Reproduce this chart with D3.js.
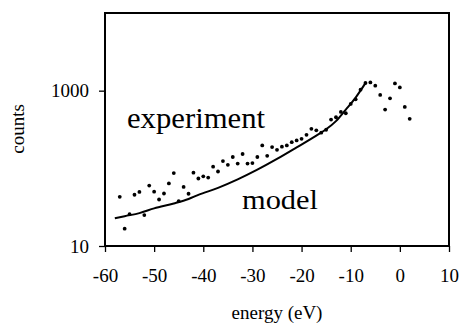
<!DOCTYPE html>
<html>
<head>
<meta charset="utf-8">
<script src="https://cdn.jsdelivr.net/npm/d3@7"></script>
<style>
  html, body { margin: 0; padding: 0; background: #fff; }
  svg { display: block; }
  svg text { font-family: "Liberation Serif", "Times New Roman", serif; fill: #000; }
</style>
</head>
<body>
<svg id="chart" width="459" height="325"></svg>
<script>
// Measured spectrum: energy (eV) and counts, one point per eV
const expEnergy = [-57,-56,-55,-54,-53,-52,-51,-50,-49,-48,-47,-46,-45,-44,-43,-42,-41,-40,-39,-38,
                   -37,-36,-35,-34,-33,-32,-31,-30,-29,-28,-27,-26,-25,-24,-23,-22,-21,-20,-19,-18,
                   -17,-16,-15,-14,-13,-12,-11,-10,-9,-8,-7,-6,-5,-4,-3,-2,-1,0,1,2];
const expCounts = [43,16.7,25.7,45.7,49.7,25,60,50,39.7,47.4,64,87,37.8,57.6,47.1,88,74,79,76,105,
                   91,124,111,140,115,153,115,117,140,197,145,188,173,190,197,217,229,240,270,323,
                   309,288,314,425,455,533,512,675,773,1030,1255,1277,1159,881,571,797,1241,1102,618,434];

// Model curve
const modelEnergy = [-58,-56,-53,-50,-46,-43,-41,-37,-33,-29,-25,-21,-17,-15,-13,-11,-9,-7];
const modelCounts = [22.7,24.2,26.5,30.5,35.3,40.3,45.5,56,72,96,132,186,264,318,405,570,815,1250];

// Axis ticks
const xTicks = [-60,-50,-40,-30,-20,-10,0,10];
const yTicks = [10,1000];

const serif = '"Liberation Serif", "Times New Roman", serif';
const svg = d3.select("#chart");
const plotLeft = 105, plotRight = 449, plotTop = 13, plotBottom = 246;

const x = d3.scaleLinear().domain([-60, 10]).range([plotLeft, plotRight]);
const y = d3.scaleLog().domain([10, 10000]).range([plotBottom, plotTop]);

// Axes
const gx = svg.append("g")
  .attr("transform", `translate(0,${plotBottom})`)
  .call(d3.axisBottom(x).tickValues(xTicks).tickSize(6).tickPadding(17).tickFormat(d => String(d)));
gx.attr("font-family", serif);
gx.select(".domain").remove();
gx.selectAll(".tick line").attr("stroke", "#000").attr("stroke-width", 1.3);
gx.selectAll(".tick text").attr("font-size", 19).style("font-family", serif);

const gy = svg.append("g")
  .attr("transform", `translate(${plotLeft},0)`)
  .call(d3.axisLeft(y).tickValues(yTicks).tickSize(6).tickPadding(10).tickFormat(d3.format("d")));
gy.attr("font-family", serif);
gy.select(".domain").remove();
gy.selectAll(".tick line").attr("stroke", "#000").attr("stroke-width", 1.3);
gy.selectAll(".tick text").attr("font-size", 19).style("font-family", serif);

// Plot frame
svg.append("rect")
  .attr("x", plotLeft).attr("y", plotTop)
  .attr("width", plotRight - plotLeft).attr("height", plotBottom - plotTop)
  .attr("fill", "none").attr("stroke", "#000").attr("stroke-width", 2);

// Model line
const line = d3.line()
  .x((d, i) => x(modelEnergy[i]))
  .y(d => y(d))
  .curve(d3.curveMonotoneX);
svg.append("path")
  .datum(modelCounts)
  .attr("d", line)
  .attr("fill", "none")
  .attr("stroke", "#000")
  .attr("stroke-width", 2);

// Experimental points
svg.append("g").selectAll("circle")
  .data(expCounts)
  .join("circle")
  .attr("cx", (d, i) => x(expEnergy[i]))
  .attr("cy", d => y(d))
  .attr("r", 1.9)
  .attr("fill", "#000");

// In-plot labels
svg.append("text")
  .attr("x", 127).attr("y", 127.5)
  .attr("font-size", 29)
  .style("font-family", serif)
  .attr("textLength", 138).attr("lengthAdjust", "spacingAndGlyphs")
  .text("experiment");
svg.append("text")
  .attr("x", 242).attr("y", 208.5)
  .attr("font-size", 28)
  .style("font-family", serif)
  .attr("textLength", 76).attr("lengthAdjust", "spacingAndGlyphs")
  .text("model");

// Axis titles
svg.append("text")
  .attr("x", (plotLeft + plotRight) / 2).attr("y", 319)
  .attr("text-anchor", "middle")
  .attr("font-size", 19)
  .style("font-family", serif)
  .text("energy (eV)");
svg.append("text")
  .attr("transform", "translate(24,129) rotate(-90)")
  .attr("text-anchor", "middle")
  .attr("font-size", 19)
  .style("font-family", serif)
  .text("counts");
</script>
</body>
</html>
